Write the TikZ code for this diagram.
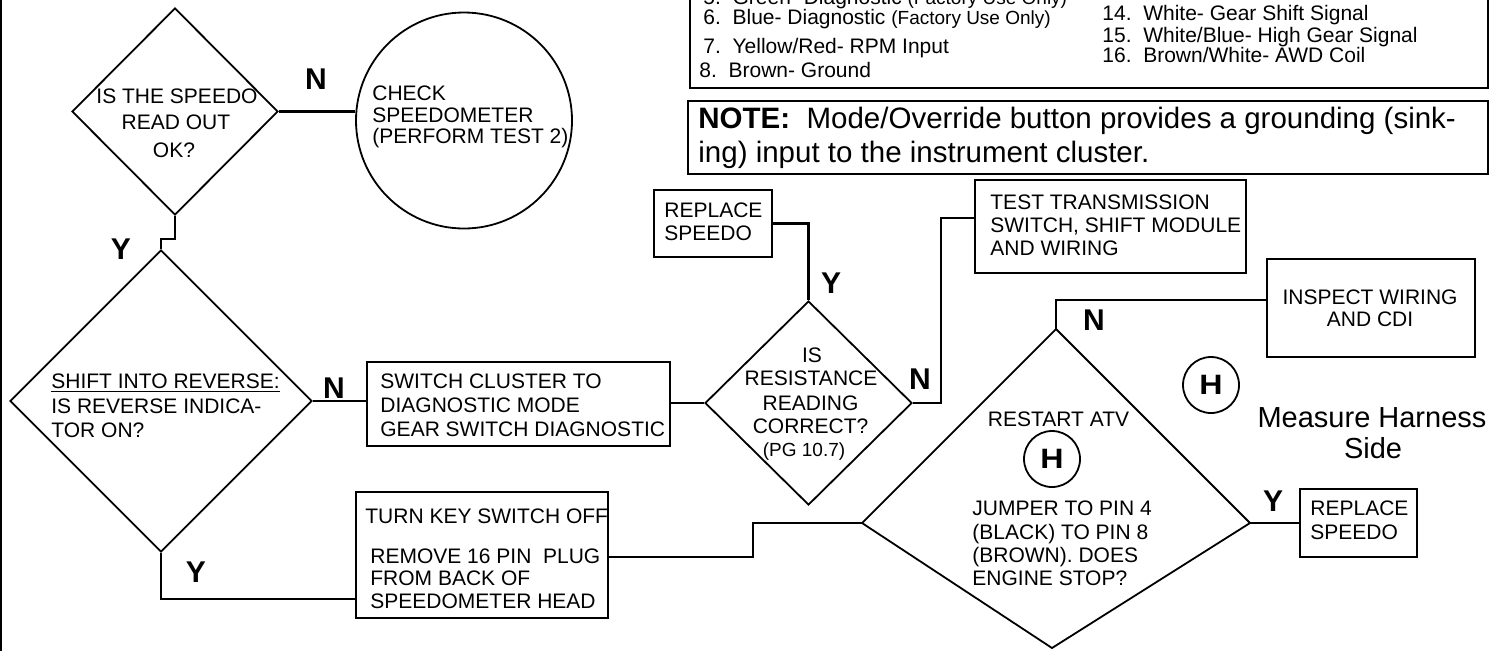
\documentclass[tikz,border=0pt]{standalone}
\usepackage{fontspec}
\setmainfont{Liberation Sans}
\usetikzlibrary{shapes.geometric,calc}
\begin{document}
\begin{tikzpicture}[x=0.5pt,y=-0.5pt,
  txt/.style={inner sep=0pt, font=\fontsize{10.5}{12}\selectfont},
  big/.style={inner sep=0pt, font=\fontsize{14.75}{17}\selectfont},
  lbl/.style={inner sep=0pt, font=\fontsize{15}{15}\selectfont\bfseries},
  box/.style={draw, line width=1.2pt, inner sep=0pt},
  dia/.style={draw, diamond, line width=0.9pt, inner sep=0pt},
  hcirc/.style={draw, circle, line width=0.9pt, inner sep=0pt, minimum size=28pt,
    font=\fontsize{14}{14}\selectfont\bfseries},
  wire/.style={line width=1.1pt},
  small/.style={font=\fontsize{9.5}{11}\selectfont}
]
\useasboundingbox (0,0) rectangle (1491,650);
\clip (0,0) rectangle (1491,650);
\draw[line width=1pt] (1,-5) -- (1,655);

% wire list box
\node[box, minimum width=399pt, minimum height=64.5pt, anchor=south west] (list) at (689,89) {};
\node[txt, anchor=base west] (l5) at (703,4) {5.\ \ Green- Diagnostic {\fontsize{9.5}{11}\selectfont (Factory Use Only)}};
\node[txt, anchor=base west] (l6) at (703,24) {6.\ \ Blue- Diagnostic {\fontsize{9.5}{11}\selectfont (Factory Use Only)}};
\node[txt, anchor=base west] (l7) at (703,53) {7.\ \ Yellow/Red- RPM Input};
\node[txt, anchor=base west] (l8) at (699,77) {8.\ \ Brown- Ground};
\node[txt, anchor=base west] (r14) at (1102,20) {14.\ \ White- Gear Shift Signal};
\node[txt, anchor=base west] (r15) at (1102,42) {15.\ \ White/Blue- High Gear Signal};
\node[txt, anchor=base west] (r16) at (1102,62) {16.\ \ Brown/White- AWD Coil};

% note box
\node[box, minimum width=400pt, minimum height=36.5pt, anchor=north west] (note) at (687,100) {};
\node[big, anchor=base west] (nt1) at (698,128) {\textbf{NOTE:}\ \ Mode/Override button provides a grounding (sink-};
\node[big, anchor=base west] (nt2) at (698,162) {ing) input to the instrument cluster.};

% diamond 1
\node[dia, minimum width=103pt, minimum height=103.5pt] (d1) at (175,111.5) {};
\node[txt, anchor=base] (d1a) at (177,103) {IS THE SPEEDO};
\node[txt, anchor=base] (d1b) at (176,129) {READ OUT};
\node[txt, anchor=base] (d1c) at (174,157) {OK?};
\node[lbl] (n1) at (316,79) {N};

% circle
\node[draw, circle, line width=0.9pt, minimum size=108pt, inner sep=0pt] (c1) at (464,120.5) {};
\node[txt, anchor=base west] (c1a) at (372,100) {CHECK};
\node[txt, anchor=base west] (c1b) at (372,122) {SPEEDOMETER};
\node[txt, anchor=base west] (c1c) at (372,143) {(PERFORM TEST 2)};
\draw[wire] (d1.east) -- (d1.east -| c1.west);

% diamond 2
\node[dia, minimum width=151pt, minimum height=151pt] (d2) at (161,401) {};
\node[txt, anchor=base west] (d2a) at (51,388) {\underline{SHIFT INTO REVERSE:}};
\node[txt, anchor=base west] (d2b) at (51,413) {IS REVERSE INDICA-};
\node[txt, anchor=base west] (d2c) at (51,437) {TOR ON?};
\node[lbl] (y1) at (121,249) {Y};
\draw[wire] (d1.south) -- ++(0,23) -| (d2.north);
\node[lbl] (n2) at (334,388) {N};

% switch cluster box
\node[box, minimum width=151.5pt, minimum height=42pt] (sw) at (518.5,404) {};
\node[txt, anchor=base west] (swa) at (380,388) {SWITCH CLUSTER TO};
\node[txt, anchor=base west] (swb) at (380,412) {DIAGNOSTIC MODE};
\node[txt, anchor=base west] (swc) at (380,436) {GEAR SWITCH DIAGNOSTIC};
\draw[wire] (d2.east) -- (d2.east -| sw.west);

% diamond 3
\node[dia, minimum width=103.5pt, minimum height=102pt] (d3) at (808.5,403) {};
\node[txt, anchor=base] (d3a) at (812,362.5) {IS};
\node[txt, anchor=base] (d3b) at (811,385.5) {RESISTANCE};
\node[txt, anchor=base] (d3c) at (810.5,410) {READING};
\node[txt, anchor=base] (d3d) at (810.5,433.5) {CORRECT?};
\node[inner sep=0pt, small, anchor=base] (d3e) at (804,456.5) {(PG 10.7)};
\draw[wire] (d3.west -| sw.east) -- (d3.west);

% replace speedo 1
\node[box, minimum width=59pt, minimum height=33.5pt] (r1) at (713,223.5) {};
\node[txt, anchor=base west] (r1a) at (664,217.5) {REPLACE};
\node[txt, anchor=base west] (r1b) at (664,240.5) {SPEEDO};
\draw[wire] (d3.north) |- (r1.east);
\node[lbl] (y3) at (831,283) {Y};

% test transmission
\node[box, minimum width=135.5pt, minimum height=46.5pt] (tt) at (1110.5,226.5) {};
\node[txt, anchor=base west] (tta) at (990,209.5) {TEST TRANSMISSION};
\node[txt, anchor=base west] (ttb) at (990,232.5) {SWITCH, SHIFT MODULE};
\node[txt, anchor=base west] (ttc) at (990,255.5) {AND WIRING};
\draw[wire] (d3.east) -- ++(28,0) |- ([yshift=4.25pt]tt.west);
\node[lbl] (n3) at (920,379) {N};

% right kite
\coordinate (kt) at (1056,329);
\coordinate (kl) at (862,523);
\coordinate (kr) at (1250,523);
\coordinate (kb) at (1052,648);
\draw[line width=0.9pt] (kt) -- (kr) -- (kb) -- (kl) -- cycle;
\node[txt, anchor=base] (ka) at (1058.5,426.5) {RESTART ATV};
\node[hcirc] (h1) at (1052,459) {\scalebox{1.15}[1]{H}};
\node[txt, anchor=base west] (kb1) at (972,515.5) {JUMPER TO PIN 4};
\node[txt, anchor=base west] (kb2) at (972,539.5) {(BLACK) TO PIN 8};
\node[txt, anchor=base west] (kb3) at (972,562.5) {(BROWN). DOES};
\node[txt, anchor=base west] (kb4) at (972,585.5) {ENGINE STOP?};
\node[lbl] (n4) at (1094,320) {N};

% inspect wiring
\node[box, minimum width=104pt, minimum height=49pt] (ins) at (1371,308) {};
\node[txt, anchor=base] (insa) at (1370,304.5) {INSPECT WIRING};
\node[txt, anchor=base] (insb) at (1370,326.5) {AND CDI};
\draw[wire] (kt) |- ([yshift=4pt]ins.west);

% H and measure harness
\node[hcirc] (h2) at (1211,385) {\scalebox{1.15}[1]{H}};
\node[inner sep=0pt, font=\fontsize{14.5}{16}\selectfont, anchor=base] (mh1) at (1372,427) {Measure Harness};
\node[inner sep=0pt, font=\fontsize{14.5}{16}\selectfont, anchor=base] (mh2) at (1373,458) {Side};

% replace speedo 2
\node[box, minimum width=58.5pt, minimum height=34pt] (r2) at (1358.5,523) {};
\node[txt, anchor=base west] (r2a) at (1310,515.5) {REPLACE};
\node[txt, anchor=base west] (r2b) at (1310,539.5) {SPEEDO};
\draw[wire] (kr) -- (r2.west);
\node[lbl] (y5) at (1273,501) {Y};

% turn key box
\node[box, minimum width=126pt, minimum height=63pt] (tk) at (482,555) {};
\node[txt, anchor=base west] (tka) at (365,523.5) {TURN KEY SWITCH OFF};
\node[txt, anchor=base west] (tkb) at (370,563.5) {REMOVE 16 PIN\ \ PLUG};
\node[txt, anchor=base west] (tkc) at (370,585.5) {FROM BACK OF};
\node[txt, anchor=base west] (tkd) at (370,608.5) {SPEEDOMETER HEAD};
\draw[wire] (d2.south) |- ([yshift=-22pt]tk.west);
\node[lbl] (y2) at (196,572) {Y};
\draw[wire] ([yshift=-1pt]tk.east) -- ++(144,0) |- (kl);
\end{tikzpicture}
\end{document}
